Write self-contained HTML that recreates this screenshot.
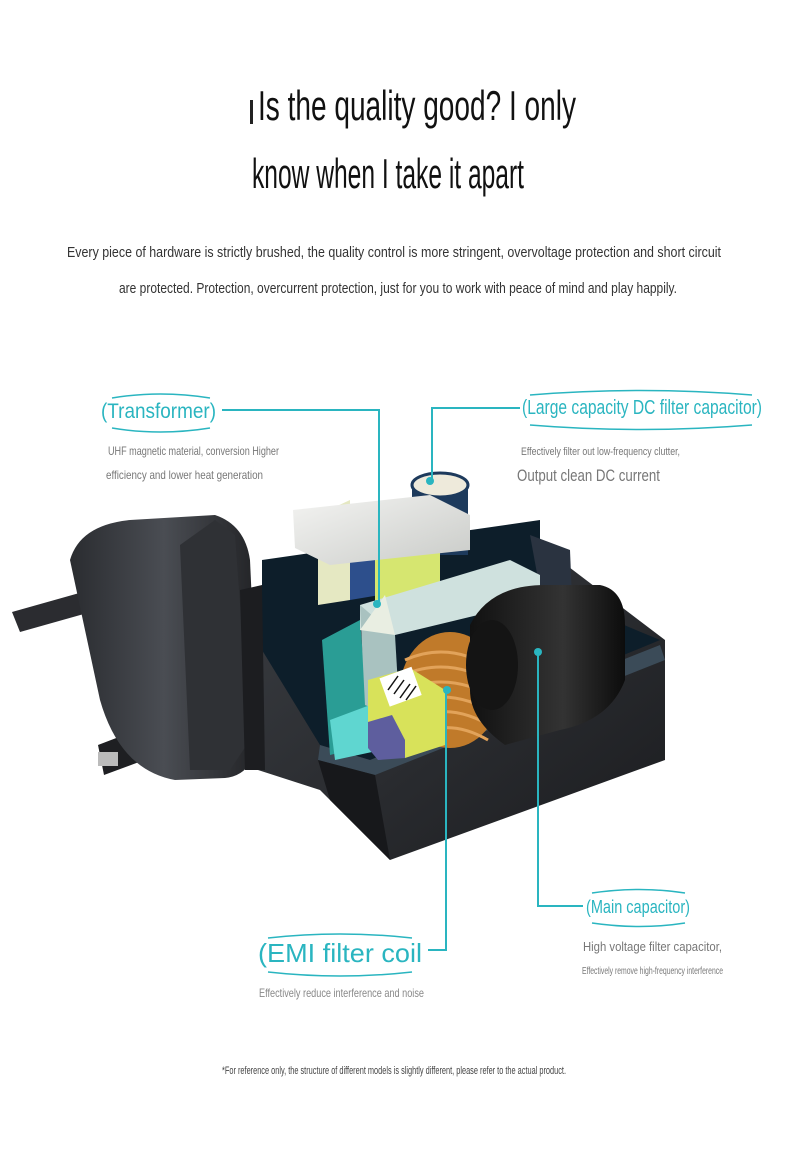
<!DOCTYPE html>
<html><head><meta charset="utf-8"><style>
html,body{margin:0;padding:0;background:#fff}
svg{display:block}
text{font-family:"Liberation Sans",sans-serif}
</style></head><body>
<svg width="790" height="1174" viewBox="0 0 790 1174" xmlns="http://www.w3.org/2000/svg">
<defs>
<linearGradient id="box" x1="0" y1="0" x2="1" y2="1"><stop offset="0" stop-color="#3a3d42"/><stop offset="1" stop-color="#1b1c1f"/></linearGradient>
<linearGradient id="plug" x1="0" y1="0" x2="1" y2="0"><stop offset="0" stop-color="#2a2c30"/><stop offset=".5" stop-color="#4a4d53"/><stop offset="1" stop-color="#222326"/></linearGradient>
<linearGradient id="cap" x1="0" y1="0" x2="1" y2="0"><stop offset="0" stop-color="#111"/><stop offset=".6" stop-color="#333"/><stop offset="1" stop-color="#0c0c0c"/></linearGradient>
<linearGradient id="tr" x1="0" y1="0" x2="1" y2="1"><stop offset="0" stop-color="#f4f4f2"/><stop offset="1" stop-color="#c9cbc8"/></linearGradient>
</defs>
<text x="258" y="120" font-size="42" fill="#111" textLength="318" lengthAdjust="spacingAndGlyphs">Is the quality good? I only</text>
<rect x="250" y="100" width="3" height="24" fill="#222"/>
<text x="252" y="188" font-size="42" fill="#111" textLength="272" lengthAdjust="spacingAndGlyphs">know when I take it apart</text>
<text x="67" y="257" font-size="15" fill="#333" textLength="654" lengthAdjust="spacingAndGlyphs">Every piece of hardware is strictly brushed, the quality control is more stringent, overvoltage protection and short circuit</text>
<text x="119" y="293" font-size="15" fill="#333" textLength="558" lengthAdjust="spacingAndGlyphs">are protected. Protection, overcurrent protection, just for you to work with peace of mind and play happily.</text>

<!-- box -->
<polygon points="255,600 540,545 665,640 665,760 390,860 320,790 258,770" fill="url(#box)"/>
<polygon points="262,560 540,520 540,590 660,640 370,760 320,745 262,650" fill="#0d1e2a"/>
<polygon points="320,745 370,760 660,645 665,660 375,775 318,760" fill="#3b4b58"/>
<polygon points="318,760 375,775 390,860 330,800" fill="#17181b"/>
<polygon points="530,535 570,550 572,600 540,590" fill="#2a3340"/>
<!-- plug pins -->
<polygon points="12,612 90,590 98,610 20,632" fill="#2b2c30"/>
<polygon points="90,625 150,605 158,632 96,650" fill="#1e1f22"/>
<rect x="92" y="625" width="18" height="18" fill="#ccc"/>
<polygon points="98,745 150,725 158,755 104,775" fill="#1e1f22"/>
<rect x="98" y="752" width="20" height="14" fill="#bbb"/>
<!-- plug body -->
<path d="M70,560 Q80,525 130,520 L215,515 Q245,525 250,560 L258,735 Q255,775 225,778 L175,780 Q120,770 100,700 Z" fill="url(#plug)"/>
<polygon points="180,545 215,520 235,535 250,740 230,770 190,770" fill="#2f3135"/>
<polygon points="240,590 262,585 265,770 245,770" fill="#1c1d20"/>
<!-- pcb -->
<polygon points="322,640 360,620 370,745 330,755" fill="#2a9d95"/>
<polygon points="330,720 370,705 372,752 335,760" fill="#5fd6d0"/>
<!-- dc cap -->
<rect x="412" y="485" width="56" height="70" fill="#1d3a5c"/>
<ellipse cx="440" cy="485" rx="28" ry="12" fill="#eeeadb" stroke="#1d3a5c" stroke-width="3"/>
<!-- transformer -->
<polygon points="318,515 350,500 350,600 318,605" fill="#e5e8c2"/>
<polygon points="350,540 380,535 380,595 350,600" fill="#2d4f8c"/>
<polygon points="375,545 440,535 440,600 375,605" fill="#d6e670"/>
<polygon points="293,510 430,495 470,515 470,550 330,565 295,548" fill="url(#tr)"/>
<polygon points="360,605 510,560 540,575 540,600 395,635 360,630" fill="#cfe1de"/>
<polygon points="360,605 395,635 400,720 365,705" fill="#a9c2c0"/>
<polygon points="385,595 395,635 360,630" fill="#e9eee2"/>
<!-- coil -->
<ellipse cx="450" cy="690" rx="50" ry="58" fill="#c07a2a"/>
<g stroke="#e2a35a" stroke-width="3" fill="none">
<path d="M405,660 Q450,640 495,670"/><path d="M403,675 Q450,655 498,685"/><path d="M403,690 Q450,670 499,700"/><path d="M405,705 Q450,685 498,715"/><path d="M410,720 Q450,700 494,728"/><path d="M418,735 Q450,718 488,740"/>
</g>
<polygon points="368,680 410,668 445,690 445,745 405,758 368,745" fill="#d8e25a"/>
<rect x="384" y="672" width="34" height="30" fill="#fff" transform="rotate(-20 400 688)"/>
<g stroke="#111" stroke-width="1.5"><line x1="388" y1="690" x2="398" y2="676"/><line x1="394" y1="694" x2="404" y2="680"/><line x1="400" y1="698" x2="410" y2="684"/><line x1="406" y1="700" x2="416" y2="686"/></g>
<polygon points="368,722 392,715 405,740 405,758 378,760 368,748" fill="#5e5e9e"/>
<!-- main cap -->
<path d="M470,625 Q490,585 545,585 L600,585 Q625,590 625,625 L625,680 Q610,720 560,730 L505,745 Q470,720 470,690 Z" fill="url(#cap)"/>
<ellipse cx="492" cy="665" rx="26" ry="45" fill="#141414"/>

<g stroke="#2ab5c0" stroke-width="2" fill="none">
<polyline points="222,410 379,410 379,603"/>
<polyline points="520,408 432,408 432,480"/>
<polyline points="428,950 446,950 446,690"/>
<polyline points="538,652 538,906 583,906"/>
</g>
<g fill="#2ab5c0"><circle cx="377" cy="604" r="4"/><circle cx="430" cy="481" r="4"/><circle cx="447" cy="690" r="4"/><circle cx="538" cy="652" r="4"/></g>

<g stroke="#2ab5c0" stroke-width="1.5" fill="none">
<path d="M112,398 Q160,390 210,398"/><path d="M112,428 Q160,436 210,428"/>
<path d="M530,395 Q640,386 752,395"/><path d="M530,425 Q640,434 752,425"/>
<path d="M268,938 Q340,930 412,938"/><path d="M268,972 Q340,980 412,972"/>
<path d="M592,893 Q640,886 685,893"/><path d="M592,923 Q640,930 685,923"/>
</g>

<text x="101" y="418" font-size="21" fill="#2ab5c0" textLength="115" lengthAdjust="spacingAndGlyphs">(Transformer)</text>
<text x="522" y="414" font-size="20" fill="#2ab5c0" textLength="240" lengthAdjust="spacingAndGlyphs">(Large capacity DC filter capacitor)</text>
<text x="258" y="962" font-size="26" fill="#2ab5c0" textLength="164" lengthAdjust="spacingAndGlyphs">(EMI filter coil</text>
<text x="586" y="913" font-size="18" fill="#2ab5c0" textLength="104" lengthAdjust="spacingAndGlyphs">(Main capacitor)</text>

<text x="108" y="455" font-size="12" fill="#777" textLength="171" lengthAdjust="spacingAndGlyphs">UHF magnetic material, conversion Higher</text>
<text x="106" y="479" font-size="12" fill="#777" textLength="157" lengthAdjust="spacingAndGlyphs">efficiency and lower heat generation</text>
<text x="521" y="455" font-size="11" fill="#777" textLength="159" lengthAdjust="spacingAndGlyphs">Effectively filter out low-frequency clutter,</text>
<text x="517" y="481" font-size="17" fill="#777" textLength="143" lengthAdjust="spacingAndGlyphs">Output clean DC current</text>
<text x="583" y="951" font-size="13" fill="#777" textLength="139" lengthAdjust="spacingAndGlyphs">High voltage filter capacitor,</text>
<text x="582" y="974" font-size="10" fill="#777" textLength="141" lengthAdjust="spacingAndGlyphs">Effectively remove high-frequency interference</text>
<text x="259" y="997" font-size="12" fill="#888" textLength="165" lengthAdjust="spacingAndGlyphs">Effectively reduce interference and noise</text>
<text x="222" y="1074" font-size="11" fill="#444" textLength="344" lengthAdjust="spacingAndGlyphs">*For reference only, the structure of different models is slightly different, please refer to the actual product.</text>
</svg>
</body></html>
